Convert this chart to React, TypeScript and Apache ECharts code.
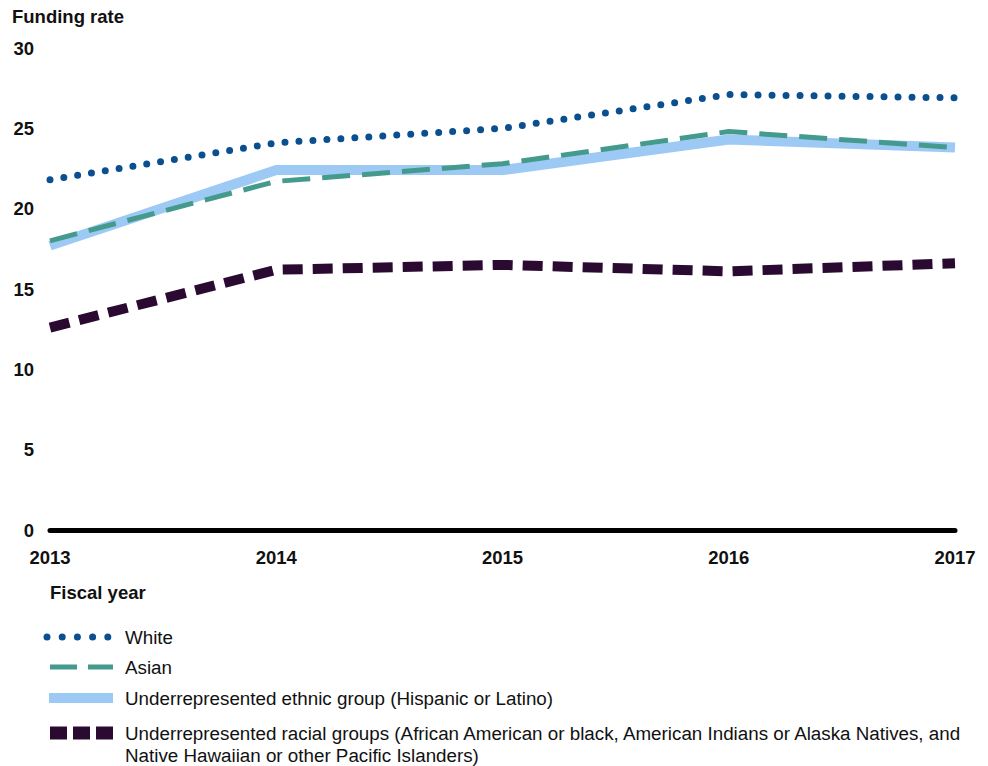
import React, { useEffect, useRef } from "react";
import * as echarts from "echarts";

const years = ["2013", "2014", "2015", "2016", "2017"];
const white = [21.8, 24.1, 25.0, 27.1, 26.9];
const asian = [18.0, 21.7, 22.8, 24.8, 23.8];
const hispanic = [17.7, 22.4, 22.4, 24.3, 23.8];
const racial = [12.6, 16.2, 16.5, 16.1, 16.6];
const legendLabels = [
  "White",
  "Asian",
  "Underrepresented ethnic group (Hispanic or Latino)",
  "Underrepresented racial groups (African American or black, American Indians or Alaska Natives, and\nNative Hawaiian or other Pacific Islanders)",
];

const C_WHITE = "#0a4f8f";
const C_ASIAN = "#459a8e";
const C_HISP = "#9ccaf5";
const C_RACIAL = "#2a0a30";
const FONT = "'Liberation Sans', Arial, sans-serif";
const FS = 18.5;
const LFS = 18.8;

export default function App() {
  const ref = useRef<HTMLDivElement>(null);
  useEffect(() => {
    const chart = echarts.init(ref.current!, null, { renderer: "svg" });
    const legendY = [637, 667, 698, 733];
    const icons: any[] = [
      { type: "line", shape: { x1: 47, y1: legendY[0], x2: 109, y2: legendY[0] }, style: { stroke: C_WHITE, lineWidth: 7, lineCap: "round", lineDash: [0, 15.2] } },
      { type: "line", shape: { x1: 50, y1: legendY[1], x2: 113, y2: legendY[1] }, style: { stroke: C_ASIAN, lineWidth: 5, lineDash: [27, 11] } },
      { type: "line", shape: { x1: 49, y1: legendY[2], x2: 113, y2: legendY[2] }, style: { stroke: C_HISP, lineWidth: 10 } },
      { type: "line", shape: { x1: 50, y1: legendY[3], x2: 113, y2: legendY[3] }, style: { stroke: C_RACIAL, lineWidth: 13, lineDash: [17, 6] } },
    ];
    const texts: any[] = legendLabels.map((t, i) => ({
      type: "text",
      x: 125,
      y: legendY[i] - 11,
      style: { text: t, fill: "#111", font: `${LFS}px ${FONT}`, lineHeight: 22, textVerticalAlign: "top" },
    }));
    chart.setOption({
      animation: false,
      backgroundColor: "#fff",
      grid: { left: 50, right: 33, top: 48, bottom: 236 },
      xAxis: {
        type: "category",
        data: years,
        boundaryGap: false,
        axisLine: { show: true, lineStyle: { color: "#000", width: 5 } },
        axisTick: { show: false },
        axisLabel: { color: "#111", fontWeight: "bold", fontSize: FS, fontFamily: FONT, margin: 18 },
        splitLine: { show: false },
      },
      yAxis: {
        type: "value",
        min: 0,
        max: 30,
        interval: 5,
        axisLine: { show: false },
        axisTick: { show: false },
        splitLine: { show: false },
        axisLabel: { color: "#111", fontWeight: "bold", fontSize: FS, fontFamily: FONT, margin: 16 },
      },
      graphic: [
        { type: "text", x: 12, y: 7, style: { text: "Funding rate", fill: "#111", font: `bold ${FS}px ${FONT}` } },
        { type: "text", x: 50, y: 583, style: { text: "Fiscal year", fill: "#111", font: `bold ${FS}px ${FONT}` } },
        ...icons,
        ...texts,
      ],
      series: [
        { name: "Hispanic", type: "line", data: hispanic, symbol: "none", z: 2, lineStyle: { color: C_HISP, width: 10 } },
        { name: "Asian", type: "line", data: asian, symbol: "none", z: 3, lineStyle: { color: C_ASIAN, width: 5, type: [28, 12] } },
        { name: "Racial", type: "line", data: racial, symbol: "none", z: 4, lineStyle: { color: C_RACIAL, width: 10, type: [20, 10] } },
        { name: "White", type: "line", data: white, symbol: "none", z: 5, lineStyle: { color: C_WHITE, width: 7, type: [0, 14], cap: "round" } },
      ],
    });
    return () => chart.dispose();
  }, []);
  return <div ref={ref} style={{ width: 988, height: 766, position: "absolute", left: 0, top: 0 }} />;
}
